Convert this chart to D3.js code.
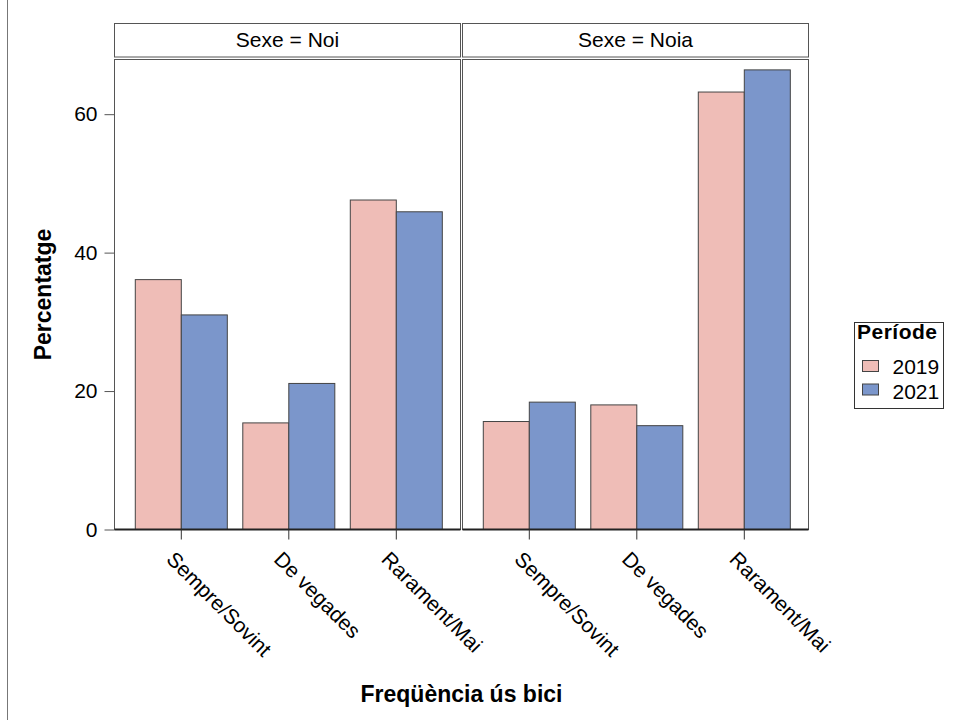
<!DOCTYPE html>
<html><head><meta charset="utf-8">
<script src="https://cdn.jsdelivr.net/npm/d3@7"></script>
<style>body{margin:0;background:#fff}svg{display:block;font-family:"Liberation Sans",Arial,sans-serif}</style>
</head><body>
<script>
const panels = ["Noi", "Noia"];
const categories = ["Sempre/Sovint", "De vegades", "Rarament/Mai"];
const periods = ["2019", "2021"];
const valuesNoi2019 = [36.1, 15.4, 47.6];
const valuesNoi2021 = [31.0, 21.1, 45.9];
const valuesNoia2019 = [15.6, 18.0, 63.2];
const valuesNoia2021 = [18.4, 15.0, 66.4];
const yTicks = [0, 20, 40, 60];
const colors = ["#efbdb7", "#7b96cb"];

const series = {
  Noi: [valuesNoi2019, valuesNoi2021],
  Noia: [valuesNoia2019, valuesNoia2021]
};

const W = 954, H = 720;
const svg = d3.select("body").append("svg").attr("width", W).attr("height", H);

const plotTop = 59.5, plotBottom = 529.5;
const panelW = 346;
const panelX = d3.scaleOrdinal().domain(panels).range([114.5, 462.5]);
const y = d3.scaleLinear().domain([0, 67.9]).range([plotBottom, plotTop]);
const x = d3.scaleBand().domain(categories).range([13.05, 335.55]).paddingInner(0.144).paddingOuter(0.072);
const xi = d3.scaleBand().domain(periods).range([0, x.bandwidth()]);
const color = d3.scaleOrdinal().domain(periods).range(colors);

// left border line
svg.append("line").attr("x1", 7.5).attr("x2", 7.5).attr("y1", 0).attr("y2", H)
  .attr("stroke", "#777").attr("stroke-width", 1);

panels.forEach(p => {
  const px = panelX(p);
  const g = svg.append("g").attr("transform", `translate(${px},0)`);
  // header
  g.append("rect").attr("x", 0).attr("y", 23.5).attr("width", panelW).attr("height", 33.5)
    .attr("fill", "#fff").attr("stroke", "#555").attr("stroke-width", 1);
  g.append("text").attr("x", panelW / 2).attr("y", 47).attr("text-anchor", "middle")
    .attr("font-size", 21).attr("fill", "#000").text("Sexe = " + p);
  // bars
  periods.forEach((per, i) => {
    g.selectAll(null).data(series[p][i]).enter().append("rect")
      .attr("x", (d, k) => x(categories[k]) + xi(per))
      .attr("y", d => y(d))
      .attr("width", xi.bandwidth())
      .attr("height", d => y(0) - y(d))
      .attr("fill", color(per))
      .attr("stroke", "#444").attr("stroke-width", 1);
  });
  // panel frame
  g.append("rect").attr("x", 0).attr("y", plotTop).attr("width", panelW).attr("height", plotBottom - plotTop)
    .attr("fill", "none").attr("stroke", "#555").attr("stroke-width", 1);
  g.append("line").attr("x1", 0).attr("x2", panelW).attr("y1", plotBottom).attr("y2", plotBottom)
    .attr("stroke", "#222").attr("stroke-width", 2);
  // bottom axis
  const xa = g.append("g").attr("transform", `translate(0,${plotBottom})`)
    .call(d3.axisBottom(x).tickSize(10).tickSizeOuter(0).tickFormat(""));
  xa.select(".domain").remove();
  xa.selectAll(".tick line").attr("stroke", "#333");
  xa.selectAll(".tick").append("text")
    .attr("transform", "translate(-16,31) rotate(45)")
    .attr("text-anchor", "start").attr("fill", "#000").attr("font-size", 21)
    .text(d => d);
});

// y axis
const ya = svg.append("g").attr("transform", `translate(114.5,0)`)
  .call(d3.axisLeft(y).tickValues(yTicks).tickSize(10).tickPadding(7).tickSizeOuter(0));
ya.select(".domain").remove();
ya.selectAll(".tick line").attr("stroke", "#555");
ya.selectAll(".tick text").attr("font-size", 21).attr("fill", "#000").attr("font-family", "Liberation Sans, Arial, sans-serif");

// axis titles
svg.append("text").attr("transform", `translate(51,${(plotTop + plotBottom) / 2}) rotate(-90)`)
  .attr("text-anchor", "middle").attr("font-size", 23).attr("font-weight", "bold").text("Percentatge");
svg.append("text").attr("x", 461.5).attr("y", 702).attr("text-anchor", "middle")
  .attr("font-size", 23).attr("font-weight", "bold").text("Freqüència ús bici");

// legend
const lg = svg.append("g");
lg.append("rect").attr("x", 854.5).attr("y", 322.5).attr("width", 89).attr("height", 86)
  .attr("fill", "#fff").attr("stroke", "#333");
lg.append("text").attr("x", 857).attr("y", 339).attr("font-size", 21).attr("font-weight", "bold")
  .attr("letter-spacing", 0.5).text("Període");
periods.forEach((per, i) => {
  lg.append("rect").attr("x", 862.5).attr("y", 360.5 + i * 23.5).attr("width", 16).attr("height", 11)
    .attr("fill", color(per)).attr("stroke", "#444");
  lg.append("text").attr("x", 892.5).attr("y", 374 + i * 24.5).attr("font-size", 21).text(per);
});
</script>
</body></html>
